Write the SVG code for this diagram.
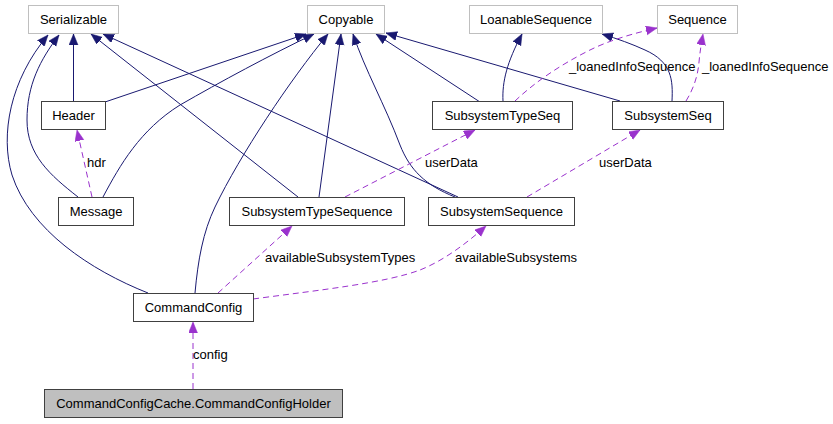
<svg xmlns="http://www.w3.org/2000/svg" width="833" height="424" viewBox="0 0 833 424">
<style>
text{font-family:"Liberation Sans",Arial,sans-serif;font-size:13px;fill:#000}
.n text{text-anchor:middle}
.box{fill:#fff;stroke:#404040;stroke-width:1}
.ext{fill:#fff;stroke:#bfbfbf;stroke-width:1}
.cur{fill:#bfbfbf;stroke:#404040;stroke-width:1}
.inh{fill:none;stroke:#191970;stroke-width:1;marker-end:url(#ah)}
.use{fill:none;stroke:#9a32cd;stroke-width:1;stroke-dasharray:6,4;marker-end:url(#au)}
</style>
<defs>
<marker id="ah" markerUnits="userSpaceOnUse" markerWidth="12" markerHeight="10" refX="11" refY="4.5" orient="auto" viewBox="0 0 12 10">
<path d="M0,0 L11,4.5 L0,9 z" fill="#191970" stroke="#191970" stroke-width="0.5"/>
</marker>
<marker id="au" markerUnits="userSpaceOnUse" markerWidth="12" markerHeight="10" refX="11" refY="4.5" orient="auto" viewBox="0 0 12 10">
<path d="M0,0 L11,4.5 L0,9 z" fill="#9a32cd" stroke="#9a32cd" stroke-width="0.5"/>
</marker>
</defs>
<rect width="833" height="424" fill="#fff"/>
<g id="connectors">
<path class="inh" d="M73.5,101.5 L73.5,34"/>
<path class="inh" d="M78,197 C50,175 27,155 27,120 C27,85 40,60 59,35"/>
<path class="inh" d="M148,293 C90,270 30,230 12,175 C0,135 10,80 48,35"/>
<path class="inh" d="M298,197 L91,34"/>
<path class="inh" d="M458,197 L103,34"/>
<path class="inh" d="M105,102 L306,34"/>
<path class="inh" d="M103,197 C120,165 140,130 180,105 C220,82 270,55 314,34"/>
<path class="inh" d="M195,293 C198,260 203,232 215,207 C240,155 290,80 328,34"/>
<path class="inh" d="M319,197 L341,34"/>
<path class="inh" d="M455,197 C425,185 410,170 400,145 C385,105 365,70 353,34"/>
<path class="inh" d="M480,102 L376,34"/>
<path class="inh" d="M620,101 L386,33"/>
<path class="inh" d="M503,101 C502,82 507,62 522,34"/>
<path class="inh" d="M672,101 C673,80 672,62 645,50 C632,44 618,39 602,34"/>
<path class="use" d="M92,197 L77,130"/>
<path class="use" d="M515,101 C535,82 560,65 590,50 C610,40 635,33 657,28"/>
<path class="use" d="M686,101 C694,88 698,75 699,62 C700,52 701,45 703,34"/>
<path class="use" d="M345,197 L475,130"/>
<path class="use" d="M527,197 L640,130"/>
<path class="use" d="M218,293 L292,226"/>
<path class="use" d="M253,299 C320,290 385,283 420,270 C445,260 468,242 486,226"/>
<path class="use" d="M193,389 L193,322"/>
<text x="87" y="167">hdr</text>
<text x="569" y="71">_loanedInfoSequence</text>
<text x="702" y="71">_loanedInfoSequence</text>
<text x="425" y="167">userData</text>
<text x="599" y="167">userData</text>
<text x="265" y="262">availableSubsystemTypes</text>
<text x="455" y="262">availableSubsystems</text>
<text x="193" y="359">config</text>
</g>
<g id="Serializable" class="n"><rect class="ext" x="28.5" y="5.5" width="90" height="28"/><text x="73.5" y="24">Serializable</text></g>
<g id="Copyable" class="n"><rect class="ext" x="307.5" y="5.5" width="77" height="28"/><text x="346" y="24">Copyable</text></g>
<g id="LoanableSequence" class="n"><rect class="ext" x="469.5" y="5.5" width="133" height="28"/><text x="536" y="24">LoanableSequence</text></g>
<g id="Sequence" class="n"><rect class="ext" x="657.5" y="5.5" width="80" height="28"/><text x="697.5" y="24">Sequence</text></g>
<g id="Header" class="n"><rect class="box" x="41.5" y="101.5" width="64" height="28"/><text x="73.5" y="120">Header</text></g>
<g id="SubsystemTypeSeq" class="n"><rect class="box" x="432.5" y="101.5" width="140" height="28"/><text x="502.5" y="120">SubsystemTypeSeq</text></g>
<g id="SubsystemSeq" class="n"><rect class="box" x="612.5" y="101.5" width="111" height="28"/><text x="668" y="120">SubsystemSeq</text></g>
<g id="Message" class="n"><rect class="box" x="58.5" y="197.5" width="75" height="28"/><text x="96" y="216">Message</text></g>
<g id="SubsystemTypeSequence" class="n"><rect class="box" x="229.5" y="197.5" width="175" height="28"/><text x="317" y="216">SubsystemTypeSequence</text></g>
<g id="SubsystemSequence" class="n"><rect class="box" x="428.5" y="197.5" width="146" height="28"/><text x="501.5" y="216">SubsystemSequence</text></g>
<g id="CommandConfig" class="n"><rect class="box" x="133.5" y="293.5" width="120" height="28"/><text x="193.5" y="312">CommandConfig</text></g>
<g id="CommandConfigHolder" class="n"><rect class="cur" x="44.5" y="389.5" width="298" height="28"/><text x="193.5" y="408">CommandConfigCache.CommandConfigHolder</text></g>
</svg>
